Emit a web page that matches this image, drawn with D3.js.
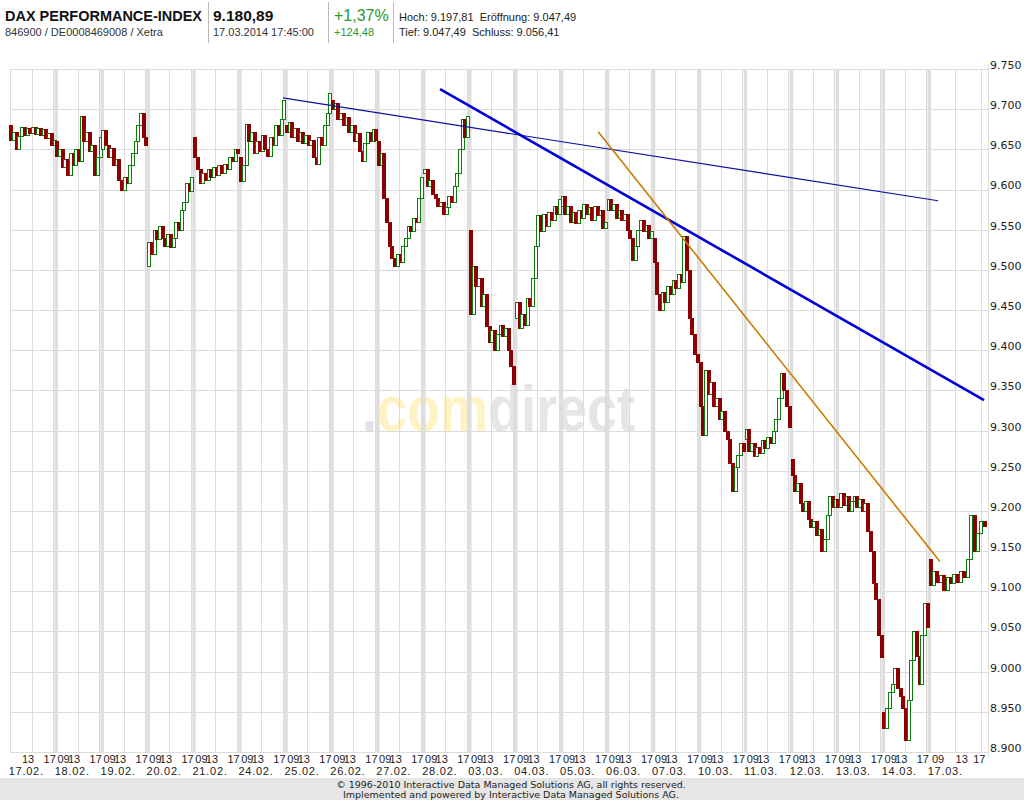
<!DOCTYPE html>
<html><head><meta charset="utf-8">
<script src="https://cdn.jsdelivr.net/npm/d3@7"></script>
<style>
body{margin:0;background:#fff;}
svg{display:block;font-family:"Liberation Sans",Arial,sans-serif;}
</style></head><body>
<svg id="c" width="1024" height="800"></svg>
<script>
// ---------- data ----------
const dayLabels = ["17.02.","18.02.","19.02.","20.02.","21.02.","24.02.","25.02.","26.02.","27.02.","28.02.","03.03.","04.03.","05.03.","06.03.","07.03.","10.03.","11.03.","12.03.","13.03.","14.03.","17.03."];
const hourLabels = ["09","13","17"];
const yTicks = [8900,8950,9000,9050,9100,9150,9200,9250,9300,9350,9400,9450,9500,9550,9600,9650,9700,9750];
// each day: opening value followed by 17 half-hour closes
const d17_02 = [9680,9662,9672,9650,9666,9678,9668,9677,9670,9678,9669,9676,9668,9675,9664,9670,9655,9662];
const d18_02 = [9660,9642,9650,9628,9638,9618,9645,9630,9650,9636,9692,9660,9672,9648,9655,9618,9640,9665];
const d19_02 = [9650,9674,9655,9640,9652,9630,9638,9612,9600,9615,9608,9630,9645,9660,9680,9695,9665,9655];
const d20_02 = [9505,9535,9520,9550,9538,9555,9540,9530,9545,9528,9540,9560,9550,9575,9585,9608,9598,9615];
const d21_02 = [9665,9640,9625,9608,9620,9612,9625,9615,9628,9618,9630,9620,9632,9625,9640,9635,9650,9645];
const d24_02 = [9640,9610,9630,9682,9660,9672,9645,9660,9648,9668,9650,9642,9665,9655,9680,9668,9688,9712];
const d25_02 = [9680,9672,9684,9665,9676,9660,9672,9658,9668,9655,9662,9640,9632,9665,9655,9680,9695,9720];
const d26_02 = [9712,9700,9708,9688,9695,9680,9690,9672,9680,9660,9670,9648,9635,9658,9672,9660,9675,9662];
const d27_02 = [9660,9630,9645,9590,9560,9530,9515,9505,9520,9510,9530,9540,9555,9548,9565,9560,9590,9615];
const d28_02 = [9620,9625,9605,9612,9595,9590,9580,9585,9570,9578,9592,9585,9605,9620,9650,9688,9665,9692];
const d03_03 = [9550,9445,9505,9480,9490,9455,9470,9430,9410,9425,9400,9420,9432,9418,9428,9400,9380,9358];
const d04_03 = [9440,9460,9428,9445,9432,9465,9455,9490,9530,9568,9548,9570,9555,9572,9562,9580,9570,9588];
const d05_03 = [9580,9592,9570,9580,9560,9572,9558,9575,9565,9582,9570,9578,9562,9580,9568,9575,9552,9560];
const d06_03 = [9575,9588,9575,9582,9565,9575,9562,9570,9550,9540,9512,9530,9550,9562,9548,9556,9540,9548];
const d07_03 = [9540,9510,9470,9450,9472,9460,9480,9470,9488,9478,9495,9485,9542,9500,9440,9420,9395,9385];
const d10_03 = [9385,9330,9295,9375,9345,9360,9330,9340,9315,9325,9300,9290,9260,9225,9255,9270,9285,9275];
const d11_03 = [9290,9302,9275,9285,9268,9280,9272,9288,9278,9292,9285,9300,9315,9340,9372,9350,9330,9305];
const d12_03 = [9265,9245,9225,9235,9210,9200,9212,9190,9180,9188,9170,9178,9150,9165,9195,9218,9205,9215];
const d13_03 = [9215,9205,9222,9208,9218,9200,9212,9218,9205,9215,9200,9210,9175,9150,9110,9090,9045,9018];
const d14_03 = [8950,8930,8955,8975,8985,9005,8980,8970,8955,8915,8965,9015,9050,9020,8985,9045,9085,9056];
const d17_03 = [9140,9108,9125,9112,9120,9102,9118,9110,9122,9112,9125,9118,9140,9195,9150,9172,9188,9181];
const days = [d17_02,d18_02,d19_02,d20_02,d21_02,d24_02,d25_02,d26_02,d27_02,d28_02,d03_03,d04_03,d05_03,d06_03,d07_03,d10_03,d11_03,d12_03,d13_03,d14_03,d17_03];
// trend lines: [day position, index value]
const trendThin  = [[5.94, 9714],[20.16, 9586]];
const trendThick = [[9.36, 9725],[20.96, 9338]];
const trendOrange= [[12.80, 9672],[20.19, 9137]];

// ---------- layout ----------
const W = 1024, H = 800;
const plot = {left:10, right:984, top:69, bottom:752};
const dayW = 45.95, lastDayW = 57.3;
const nDays = dayLabels.length;
const x = d3.scaleLinear().domain([0, nDays-1, nDays])
  .range([plot.left, plot.left + (nDays-1)*dayW, plot.left + (nDays-1)*dayW + lastDayW]);
const y = d3.scaleLinear().domain([8900, 9750]).range([plot.bottom, plot.top]);
const svg = d3.select("#c");
const grid = "#dcdcdc";
const de = d3.formatLocale({decimal:",", thousands:".", grouping:[3], currency:["","€"]});
const fmt = de.format(",.0f");
const hourPos = (d,h) => d + h/ (d===nDays-1 ? 8.75 : 8.5);

// header
const hdr = svg.append("g").attr("fill","#111");
hdr.append("text").attr("x",5).attr("y",21).attr("font-weight","bold").attr("font-size",15).attr("textLength",197).attr("lengthAdjust","spacingAndGlyphs").text("DAX PERFORMANCE-INDEX");
hdr.append("text").attr("x",5).attr("y",36).attr("font-size",11).attr("fill","#333").text("846900 / DE0008469008 / Xetra");
hdr.append("text").attr("x",213).attr("y",21).attr("font-weight","bold").attr("font-size",15.5).text("9.180,89");
hdr.append("text").attr("x",213).attr("y",36).attr("font-size",11).attr("fill","#333").text("17.03.2014 17:45:00");
hdr.append("text").attr("x",334).attr("y",21).attr("font-size",16).attr("fill","#2a9a2a").text("+1,37%");
hdr.append("text").attr("x",334).attr("y",36).attr("font-size",11).attr("fill","#2a9a2a").text("+124,48");
hdr.append("text").attr("x",399).attr("y",21).attr("font-size",11).attr("fill","#222").attr("xml:space","preserve").text("Hoch: 9.197,81  Eröffnung: 9.047,49");
hdr.append("text").attr("x",399).attr("y",36).attr("font-size",11).attr("fill","#222").attr("xml:space","preserve").text("Tief: 9.047,49  Schluss: 9.056,41");
[208,328,393].forEach(v=>hdr.append("line").attr("x1",v+.5).attr("x2",v+.5).attr("y1",2).attr("y2",43).attr("stroke","#bbb"));

// watermark (pieces laid side by side, then scaled to width)
const wmParts = [[".","#e2e2e2"],["com","#fff2c4"],["direct","#e6e6e6"]];
const wm = svg.append("g");
let wmX = 0;
wmParts.forEach(p=>{
  const t = wm.append("text").attr("x",wmX).attr("y",0).attr("font-weight","bold").attr("font-size",64).attr("fill",p[1]).text(p[0]);
  wmX += t.node().getComputedTextLength();
});
wm.attr("transform",`translate(362,${(plot.top+plot.bottom)/2+20}) scale(${273/wmX},1)`);

// grid: horizontal
svg.append("g").selectAll("line").data(yTicks).join("line")
  .attr("x1",plot.left).attr("x2",plot.right+4)
  .attr("y1",d=>Math.round(y(d))+.5).attr("y2",d=>Math.round(y(d))+.5)
  .attr("stroke",grid);
// grid: vertical hour lines and day separators
const vg = svg.append("g");
d3.range(nDays).forEach(d=>{
  [4,8].forEach(h=>{
    const xv = Math.round(x(hourPos(d,h)))+.5;
    vg.append("line").attr("x1",xv).attr("x2",xv).attr("y1",plot.top).attr("y2",plot.bottom).attr("stroke",grid);
  });
  if(d>0){
    const xs = x(d);
    vg.append("rect").attr("x",xs-1.5).attr("width",3.5).attr("y",plot.top).attr("height",plot.bottom-plot.top).attr("fill","#dedede");
  }
});
vg.append("line").attr("x1",plot.left+.5).attr("x2",plot.left+.5).attr("y1",plot.top).attr("y2",plot.bottom).attr("stroke",grid);
vg.append("line").attr("x1",plot.right+4.5).attr("x2",plot.right+4.5).attr("y1",plot.top-5).attr("y2",plot.bottom+5).attr("stroke",grid);

// y axis
const yAxis = d3.axisRight(y).tickValues(yTicks).tickFormat(fmt).tickSize(0).tickPadding(0);
const ya = svg.append("g").attr("transform",`translate(${plot.right+6},0)`).call(yAxis);
ya.select(".domain").remove();
ya.selectAll("text").attr("font-family","'DejaVu Sans',sans-serif").attr("font-size",11).attr("fill","#222").attr("dy","-0.05em");

// x labels
const xl = svg.append("g").attr("font-family","'Liberation Sans',Arial,sans-serif").attr("font-size",11).attr("fill","#222");
d3.range(nDays).forEach(d=>{
  const xs = x(d), last = d===nDays-1;
  if(d>0) xl.append("text").attr("x",xs+(last?3:1.5)).attr("y",763).text(hourLabels[0]);
  xl.append("text").attr("x",x(hourPos(d,4))+(last?6.5:-3.5)).attr("y",763).attr("text-anchor","middle").text(hourLabels[1]);
  xl.append("text").attr("x",x(hourPos(d,8))+(last?-2:-3.5)).attr("y",763).attr("text-anchor","middle").text(hourLabels[2]);
  xl.append("text").attr("x",Math.max(xs-1.3,0)).attr("y",775).attr("letter-spacing",0.75).text(dayLabels[d]);
});

// candles
const candles = [];
days.forEach((vals,d)=>{
  for(let k=0;k<vals.length-1;k++){
    candles.push({pos:d+(k+0.5)/17, o:vals[k], c:vals[k+1]});
  }
});
const cg = svg.append("g");
cg.selectAll("rect").data(candles).join("rect")
  .attr("x",d=>Math.round(x(d.pos))-1.5)
  .attr("width",3)
  .attr("y",d=>Math.round(y(Math.max(d.o,d.c)))+.5)
  .attr("height",d=>Math.max(1,Math.abs(Math.round(y(d.o))-Math.round(y(d.c)))))
  .attr("fill",d=>d.c>=d.o?"#fff":"#8c0000")
  .attr("stroke",d=>d.c>=d.o?"#0b7d0b":"#8c0000")
  .attr("stroke-width",1);

// trend lines
const line = d3.line().x(d=>x(d[0])).y(d=>y(d[1]));
svg.append("path").datum(trendThin).attr("d",line).attr("stroke","#1010a0").attr("stroke-width",1.2).attr("fill","none");
svg.append("path").datum(trendThick).attr("d",line).attr("stroke","#0000dc").attr("stroke-width",2.6).attr("fill","none");
svg.append("path").datum(trendOrange).attr("d",line).attr("stroke","#cc7a00").attr("stroke-width",1.6).attr("fill","none");

// footer
svg.append("rect").attr("x",0).attr("y",778).attr("width",W).attr("height",H-778).attr("fill","#e6e6e6");
const ft = svg.append("g").attr("font-family","'DejaVu Sans',sans-serif").attr("font-size",9.5).attr("fill","#222").attr("text-anchor","middle");
ft.append("text").attr("x",511).attr("y",788).text("© 1996-2010 Interactive Data Managed Solutions AG, all rights reserved.");
ft.append("text").attr("x",511).attr("y",798).text("Implemented and powered by Interactive Data Managed Solutions AG.");
</script></body></html>
